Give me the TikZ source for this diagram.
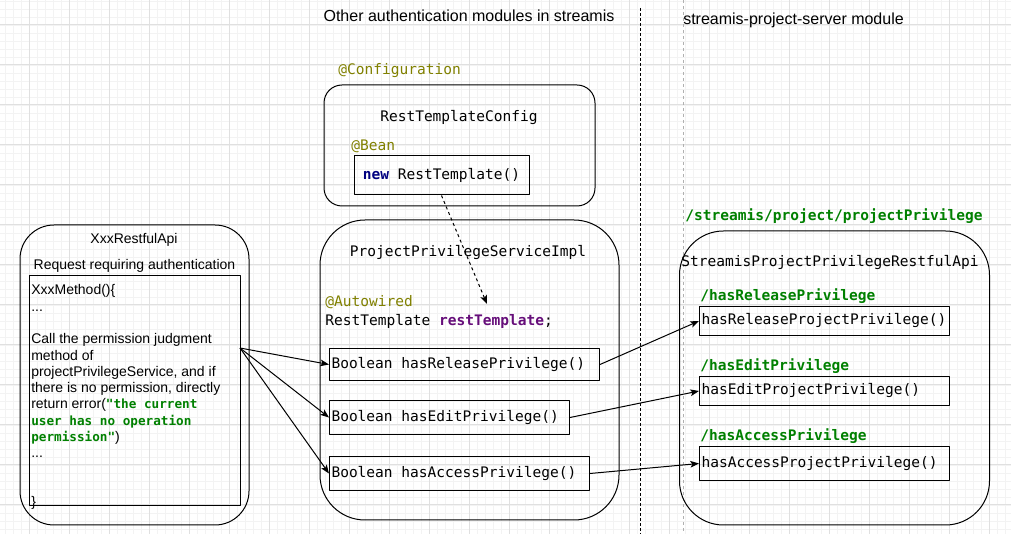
\documentclass[tikz,border=0pt]{standalone}
\usepackage{fontspec}
\setmainfont{Liberation Sans}
\setmonofont{DejaVu Sans Mono}
\usetikzlibrary{arrows,arrows.meta,positioning}
\definecolor{olivea}{HTML}{808000}
\definecolor{greena}{HTML}{008000}
\definecolor{navya}{HTML}{000080}
\definecolor{purplea}{HTML}{660E7A}
\definecolor{gridmajor}{HTML}{E0E0E0}
\definecolor{gridminor}{HTML}{F3F3F3}
\definecolor{dividergray}{HTML}{B0B0B0}
\newcommand{\pxu}{0.75pt}
\newcommand{\codefont}{\fontsize{10.9}{13}\selectfont\ttfamily}
\newcommand{\smallcode}{\fontsize{9.5}{12.2}\selectfont\ttfamily\bfseries\color{greena}}
\newcommand{\natspace}{\spaceskip=0pt \xspaceskip=0pt\relax}
\tikzset{
  minorgrid/.style={gridminor, line width=0.5pt},
  majorgrid/.style={gridmajor, line width=0.75pt},
  module/.style={draw, line width=0.75pt},
  methodbox/.style={draw, line width=0.75pt, font=\codefont, anchor=north west, inner xsep=1.5pt, inner ysep=0pt},
  code/.style={font=\codefont, inner sep=0pt},
  pathlabel/.style={font=\codefont\bfseries, text=greena, inner sep=0pt, anchor=west},
  plain/.style={font=\fontsize{10.5}{12.2}\selectfont, inner sep=0pt},
  header/.style={font=\fontsize{12}{14}\selectfont, inner sep=0pt},
  call/.style={->, line width=0.75pt},
  divider/.style={line width=0.75pt, dash pattern=on 2.25pt off 1.5pt},
}
\begin{document}
\begin{tikzpicture}[line join=round,>={Stealth[length=6.5pt,width=5pt,inset=1.5pt]},x=0.75pt,y=-0.75pt]
    \useasboundingbox (0,0) rectangle (1011,534);
    % background grid
    \foreach \gx in {5,13,...,1005} \draw[minorgrid] (\gx,0) -- (\gx,534);
    \foreach \gy in {1,9,...,529} \draw[minorgrid] (0,\gy) -- (1011,\gy);
    \foreach \gx in {29,69,...,989} \draw[majorgrid] (\gx,0) -- (\gx,534);
    \foreach \gy in {25,65,...,505} \draw[majorgrid] (0,\gy) -- (1011,\gy);
    % module dividers
    \coordinate (divtop) at (640,8);
    \coordinate (divbot) at (640,534);
    \draw[divider] (divtop) -- (divbot);
    \coordinate (greytop) at (683,0);
    \coordinate (greybot) at (683,534);
    \draw[divider, dividergray, dash pattern=on 2.25pt off 2.25pt] (greytop) -- (greybot);
    \node[header] (leftheader) at (469,16) {Other authentication modules in streamis};
    \node[header, anchor=west] (rightheader) at (683,20) {streamis-project-server module};
    % XxxRestfulApi
    \node[module, rounded corners=25.5pt, minimum width=229*\pxu, minimum height=300*\pxu] (xxxapi) at (134.5,375) {};
    \node[plain] (xxxtitle) at (134,240) {XxxRestfulApi};
    \node[plain] (reqlabel) at (134.5,266) {Request requiring authentication};
    \node[draw, line width=0.75pt, minimum width=211*\pxu, minimum height=230*\pxu] (xxxbody) at (134.5,391) {};
    \node[plain, anchor=base west, text width=205*\pxu] (xxxcode) at (31,295) {\natspace XxxMethod()\{\\
      ...\\
      \mbox{}\\
      Call the permission judgment\\
      method of\\
      projectPrivilegeService, and if\\
      there is no permission, directly\\
      return error({\smallcode"the current}\\
      {\smallcode user has no operation}\\
      {\smallcode permission"})\\
      ...\\
      \mbox{}\\
      \mbox{}\\
      \}};
    % RestTemplateConfig
    \node[module, rounded corners=13.5pt, minimum width=271*\pxu, minimum height=121*\pxu] (rtconfig) at (459.5,145.5) {};
    \node[code, text=olivea, anchor=west] (cfgnote) at (338,71) {@Configuration};
    \node[code] (rttitle) at (459,118) {RestTemplateConfig};
    \node[code, text=olivea, anchor=west] (beannote) at (351,146) {@Bean};
    \node[code, draw, line width=0.75pt, minimum width=175*\pxu, minimum height=39*\pxu] (newbox) at (441.5,175.5) {{\bfseries\color{navya}new} RestTemplate()};
    % ProjectPrivilegeServiceImpl
    \node[module, rounded corners=33.75pt, minimum width=299*\pxu, minimum height=300*\pxu] (ppsimpl) at (469.5,370) {};
    \node[code] (pptitle) at (468,253) {ProjectPrivilegeServiceImpl};
    \node[code, text=olivea, anchor=west] (autonote) at (325,302) {@Autowired};
    \node[code, anchor=west] (rtfield) at (325,321) {RestTemplate {\bfseries\color{purplea}restTemplate};};
    \node[methodbox, text width=270*\pxu-3pt, minimum height=32*\pxu] (relbool) at (329,348) {\natspace Boolean hasReleasePrivilege()};
    \node[methodbox, text width=240*\pxu-3pt, minimum height=34*\pxu] (editbool) at (329,400) {\natspace Boolean hasEditPrivilege()};
    \node[methodbox, text width=260*\pxu-3pt, minimum height=34*\pxu] (accbool) at (329,456) {\natspace Boolean hasAccessPrivilege()};
    % StreamisProjectPrivilegeRestfulApi
    \node[module, rounded corners=33pt, minimum width=310*\pxu, minimum height=294*\pxu] (privapi) at (834.5,378) {};
    \node[pathlabel] (privpath) at (685,216) {/streamis/project/projectPrivilege};
    \node[code] (privtitle) at (830,263) {StreamisProjectPrivilegeRestfulApi};
    \node[pathlabel] (relpath) at (700,296) {/hasReleasePrivilege};
    \node[methodbox, text width=250*\pxu-3pt, minimum height=29*\pxu] (relapi) at (699,306) {hasReleaseProjectPrivilege()};
    \node[pathlabel] (editpath) at (700,366) {/hasEditPrivilege};
    \node[methodbox, text width=250*\pxu-3pt, minimum height=29*\pxu] (editapi) at (699,376) {hasEditProjectPrivilege()};
    \node[pathlabel] (accpath) at (700,436) {/hasAccessPrivilege};
    \node[methodbox, text width=250*\pxu-3pt, minimum height=34*\pxu] (accapi) at (699,446) {hasAccessProjectPrivilege()};
    % calls
    \coordinate (callsite) at (240,348);
    \draw[call] (callsite) -- (relbool.west);
    \draw[call] (callsite) -- (editbool.west);
    \draw[call] (callsite) -- (accbool.west);
    \draw[call] (relbool.east) -- (relapi.west);
    \draw[call] (editbool.east) -- (editapi.west);
    \draw[call] (accbool.east) -- (accapi.west);
    \coordinate (inject) at (487,304);
    \draw[call, dash pattern=on 2.25pt off 2.25pt] (newbox.south) -- (inject);
\end{tikzpicture}
\end{document}
